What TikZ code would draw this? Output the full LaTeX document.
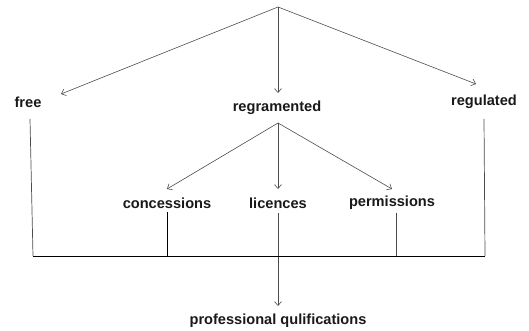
\documentclass[tikz,border=0pt]{standalone}
\usepackage{fontspec}
\setmainfont{Liberation Sans}
\usetikzlibrary{arrows.meta}
\begin{document}
\begin{tikzpicture}[x=1pt,y=-1pt,
  lbl/.style={font=\bfseries\fontsize{14.6}{17}\selectfont, inner sep=0pt, text=black!90},
  arr/.style={draw=black!70, line width=0.6pt, -{Straight Barb[length=4pt,width=7pt]}},
  ln/.style={draw=black!70, line width=0.7pt},
  bar/.style={draw=black, line width=0.9pt}]
\useasboundingbox (0,0) rectangle (529,331);
% labels
\node[lbl] (free) at (28,102) {free};
\node[lbl] (regr) at (277,108) {regramented};
\node[lbl] (regu) at (484,102) {regulated};
\node[lbl] (conc) at (167,203) {concessions};
\node[lbl] (lic) at (278,203) {licences};
\node[lbl] (perm) at (392,203) {permissions};
\node[lbl] (prof) at (278,321) {professional qulifications};
% connector points
\coordinate (top) at (278,7);
\coordinate (tfree) at (61,94);
\coordinate (tregr) at (278,93);
\coordinate (tregu) at (476,84);
\coordinate (rtop) at (278,123);
\coordinate (tconc) at (167,189);
\coordinate (tlic) at (278,189);
\coordinate (tperm) at (392,189);
\coordinate (fa) at (30,119);
\coordinate (fb) at (33,256);
\coordinate (ga) at (484,119);
\coordinate (gb) at (485,256);
\coordinate (ca) at (167,212);
\coordinate (cb) at (167,256);
\coordinate (la) at (278,213);
\coordinate (lb) at (278,306);
\coordinate (pa) at (396,213);
\coordinate (pb) at (396,256);
% arrows
\draw[arr] (top) -- (tfree);
\draw[arr] (top) -- (tregr);
\draw[arr] (top) -- (tregu);
\draw[arr] (rtop) -- (tconc);
\draw[arr] (rtop) -- (tlic);
\draw[arr] (rtop) -- (tperm);
\draw[arr] (la) -- (lb);
% lines
\draw[ln] (fa) -- (fb);
\draw[ln] (ga) -- (gb);
\draw[bar] (ca) -- (cb);
\draw[ln] (pa) -- (pb);
\draw[bar] (fb) -- (gb);
\end{tikzpicture}
\end{document}
